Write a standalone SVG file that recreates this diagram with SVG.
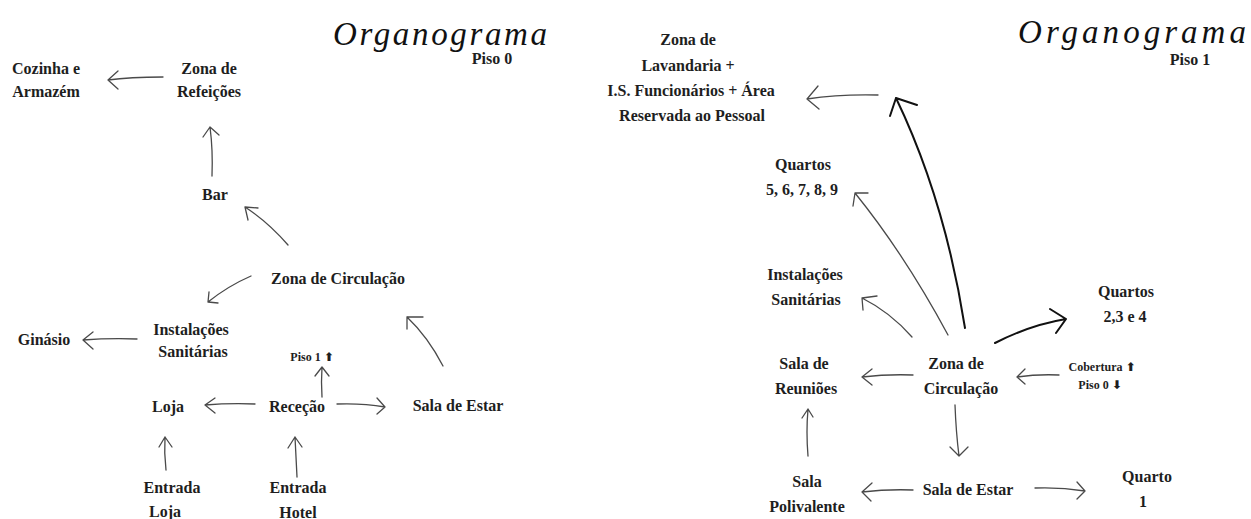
<svg xmlns="http://www.w3.org/2000/svg" width="1251" height="519" viewBox="0 0 1251 519">
<style>
.t{font-family:"Liberation Serif","DejaVu Serif",serif;font-weight:bold;font-size:16px;fill:#1e1e1e;text-anchor:middle}
.s{font-family:"Liberation Serif","DejaVu Serif",serif;font-weight:bold;font-size:12px;fill:#1e1e1e;text-anchor:middle}
.ar{font-family:"DejaVu Sans",sans-serif;font-weight:bold}
.ttl{font-family:"Liberation Serif","DejaVu Serif",serif;font-style:italic;font-size:33px;fill:#111}
.c{fill:none;stroke:#4a4a4a;stroke-width:1.3;stroke-linecap:round;stroke-linejoin:round}
.k{fill:none;stroke:#111;stroke-width:2;stroke-linecap:round;stroke-linejoin:round}
</style>
<rect width="1251" height="519" fill="#ffffff"/>

<g id="title-left">
<text class="ttl" x="333" y="45" textLength="214" lengthAdjust="spacing">Organograma</text>
<text class="t" x="492" y="64">Piso 0</text>
</g>
<g id="title-right">
<text class="ttl" x="1018" y="43" textLength="228" lengthAdjust="spacing">Organograma</text>
<text class="t" x="1190" y="65">Piso 1</text>
</g>

<g id="n-cozinha"><text class="t" x="46" y="74">Cozinha e</text><text class="t" x="46" y="97">Armazém</text></g>
<g id="n-refeicoes"><text class="t" x="209" y="74">Zona de</text><text class="t" x="209" y="97">Refeições</text></g>
<g id="n-bar"><text class="t" x="215" y="200">Bar</text></g>
<g id="n-circ0"><text class="t" x="338" y="284">Zona de Circulação</text></g>
<g id="n-inst0"><text class="t" x="191" y="335">Instalações</text><text class="t" x="193" y="357">Sanitárias</text></g>
<g id="n-ginasio"><text class="t" x="44" y="345">Ginásio</text></g>
<g id="n-piso1"><text class="s" x="312" y="361">Piso 1 <tspan class="ar">⬆</tspan></text></g>
<g id="n-loja"><text class="t" x="168" y="412">Loja</text></g>
<g id="n-rececao"><text class="t" x="297" y="412">Receção</text></g>
<g id="n-estar0"><text class="t" x="458" y="411">Sala de Estar</text></g>
<g id="n-entloja"><text class="t" x="172" y="493">Entrada</text><text class="t" x="165" y="517">Loja</text></g>
<g id="n-enthotel"><text class="t" x="298" y="493">Entrada</text><text class="t" x="298" y="518">Hotel</text></g>

<g id="n-lavandaria"><text class="t" x="688" y="45">Zona de</text><text class="t" x="688" y="71">Lavandaria +</text><text class="t" x="691" y="96">I.S. Funcionários + Área</text><text class="t" x="692" y="121">Reservada ao Pessoal</text></g>
<g id="n-q59"><text class="t" x="803" y="170">Quartos</text><text class="t" x="802" y="195">5, 6, 7, 8, 9</text></g>
<g id="n-inst1"><text class="t" x="805" y="280">Instalações</text><text class="t" x="806" y="305">Sanitárias</text></g>
<g id="n-q234"><text class="t" x="1126" y="297">Quartos</text><text class="t" x="1125" y="322">2,3 e 4</text></g>
<g id="n-circ1"><text class="t" x="956" y="369">Zona de</text><text class="t" x="961" y="394">Circulação</text></g>
<g id="n-reunioes"><text class="t" x="804" y="369">Sala de</text><text class="t" x="806" y="394">Reuniões</text></g>
<g id="n-cobertura"><text class="s" x="1102" y="371">Cobertura <tspan class="ar">⬆</tspan></text><text class="s" x="1100" y="389">Piso 0 <tspan class="ar">⬇</tspan></text></g>
<g id="n-polivalente"><text class="t" x="807" y="487">Sala</text><text class="t" x="807" y="512">Polivalente</text></g>
<g id="n-estar1"><text class="t" x="968" y="495">Sala de Estar</text></g>
<g id="n-quarto1"><text class="t" x="1147" y="482">Quarto</text><text class="t" x="1143" y="507">1</text></g>

<g id="connectors">
<!-- Piso 0 -->
<path class="c" d="M163,77 Q130,77 108,80 M118,71 L108,80 L118,89"/>
<path class="c" d="M212,176 Q213,150 210,127 M203,137 L210,127 L219,135"/>
<path class="c" d="M288,245 Q268,222 245,207 M248,220 L245,207 L258,208"/>
<path class="c" d="M251,276 Q228,286 208,302 M209,292 L208,302 L218,303"/>
<path class="c" d="M137,339 Q110,338 83,340 M93,332 L83,340 L93,349"/>
<path class="c" d="M322,397 Q321,382 322,367 M315,376 L322,367 L329,376"/>
<path class="c" d="M255,404 Q230,403 205,405 M215,398 L205,405 L215,413"/>
<path class="c" d="M337,404 Q362,403 385,407 M377,398 L385,407 L377,414"/>
<path class="c" d="M443,366 Q428,337 407,317 M407,329 L407,317 L423,317"/>
<path class="c" d="M166,470 Q164,453 165,437 M159,447 L165,437 L172,447"/>
<path class="c" d="M297,477 Q296,456 295,437 M288,448 L295,437 L302,447"/>
<!-- Piso 1 -->
<path class="c" d="M878,95 Q840,94 807,99 M818,86 L807,99 L819,109"/>
<path class="k" d="M965,328 Q945,200 896,98 M890,116 L896,98 L917,105"/>
<path class="c" d="M948,335 Q905,255 855,193 M853,206 L855,193 L868,193"/>
<path class="c" d="M912,337 Q890,312 862,298 M863,310 L862,298 L877,296"/>
<path class="k" d="M995,343 Q1030,325 1066,319 M1050,309 L1066,319 L1056,333"/>
<path class="c" d="M913,375 Q888,374 862,377 M872,369 L862,377 L872,385"/>
<path class="c" d="M1059,375 Q1038,374 1017,377 M1025,369 L1017,377 L1025,384"/>
<path class="c" d="M955,405 Q956,432 959,456 M950,447 L959,456 L968,447"/>
<path class="c" d="M808,456 Q806,432 808,409 M802,418 L808,409 L813,417"/>
<path class="c" d="M913,490 Q888,489 862,492 M872,483 L862,492 L871,501"/>
<path class="c" d="M1035,488 Q1060,487 1085,491 M1077,482 L1085,491 L1077,499"/>
</g>
</svg>
